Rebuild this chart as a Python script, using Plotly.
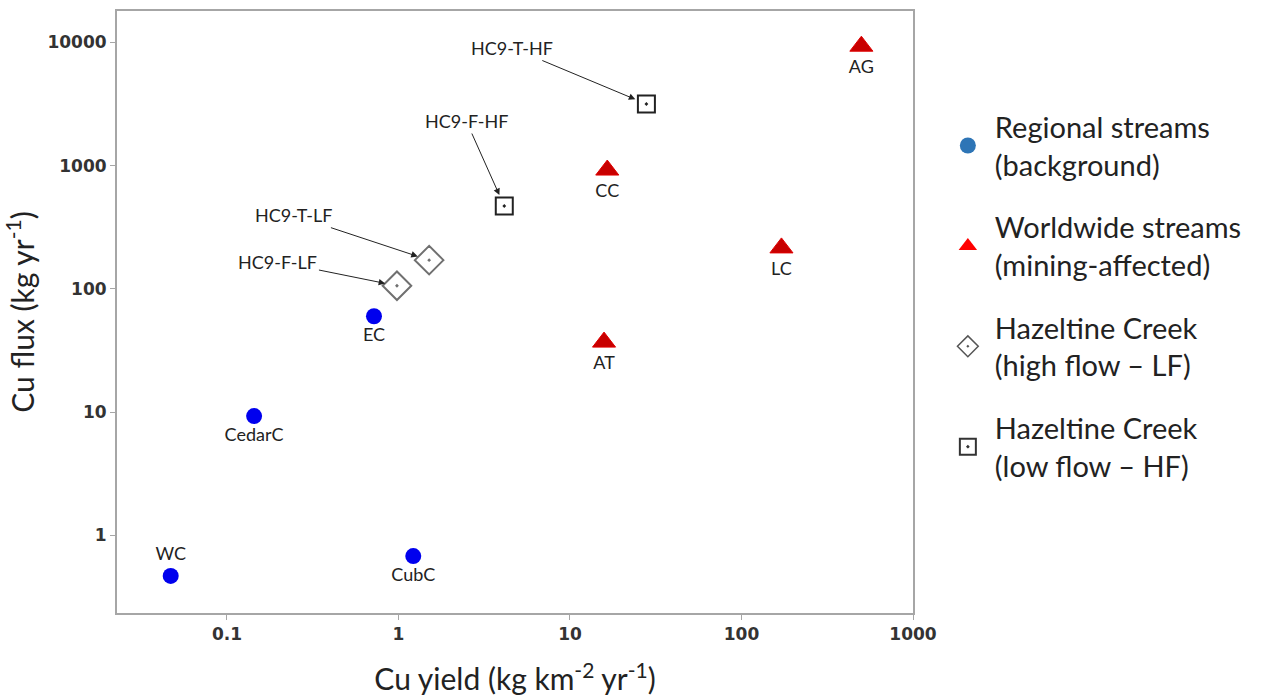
import plotly.graph_objects as go
import math

# Regional streams (background)
reg_names = ["WC", "CubC", "CedarC", "EC"]
reg_x = [0.047, 1.22, 0.144, 0.72]
reg_y = [0.47, 0.68, 9.3, 60]
reg_pos = ["top center", "bottom center", "bottom center", "bottom center"]

# Worldwide streams (mining-affected)
ww_names = ["AG", "CC", "LC", "AT"]
ww_x = [500, 16.5, 171, 15.8]
ww_y = [9300, 920, 215, 37]

# Hazeltine Creek (high flow - LF)
lf_names = ["HC9-F-LF", "HC9-T-LF"]
lf_x = [0.98, 1.51]
lf_y = [106, 171]

# Hazeltine Creek (low flow - HF)
hf_names = ["HC9-F-HF", "HC9-T-HF"]
hf_x = [4.14, 27.9]
hf_y = [470, 3160]

x_ticks = [0.1, 1, 10, 100, 1000]
x_ticktext = ["0.1", "1", "10", "100", "1000"]
y_ticks = [1, 10, 100, 1000, 10000]
y_ticktext = ["1", "10", "100", "1000", "10000"]

FONT = "Lato, 'Open Sans', sans-serif"
LBL = dict(family=FONT, size=18, color="#222")

fig = go.Figure()

fig.add_trace(go.Scatter(
    x=reg_x, y=reg_y, mode="markers+text", text=reg_names, textposition=reg_pos,
    marker=dict(symbol="circle", size=16, color="#0000ee", line=dict(width=0)),
    textfont=LBL, showlegend=False, cliponaxis=False))
fig.add_trace(go.Scatter(
    x=ww_x, y=ww_y, mode="markers+text", text=ww_names, textposition="bottom center",
    marker=dict(symbol="triangle-up", size=20, color="#c80000", line=dict(width=1, color="#e00000")),
    textfont=LBL, showlegend=False, cliponaxis=False))
fig.add_trace(go.Scatter(
    x=lf_x, y=lf_y, mode="markers",
    marker=dict(symbol="diamond-open-dot", size=22, color="#707070", line=dict(width=2, color="#707070")),
    showlegend=False))
fig.add_trace(go.Scatter(
    x=hf_x, y=hf_y, mode="markers",
    marker=dict(symbol="square-open-dot", size=17, color="#222", line=dict(width=2, color="#222")),
    showlegend=False))

# legend-only entries
legend_entries = [
    ("Regional streams<br>(background)", "circle", "#2e75b6", None),
    ("Worldwide streams<br>(mining-affected)", "triangle-up", "#ff0000", None),
    ("Hazeltine Creek<br>(high flow – LF)", "diamond-open-dot", "#555555", 1.5),
    ("Hazeltine Creek<br>(low flow – HF)", "square-open-dot", "#333333", 2),
]
for i, (name, sym, col, lw) in enumerate(legend_entries):
    m = dict(symbol=sym, size=22, color=col)
    if lw:
        m["line"] = dict(width=lw, color=col)
    fig.add_trace(go.Scatter(x=[None], y=[None], mode="markers", name=name,
                             marker=m, legendgroup=str(i), showlegend=True))

# arrow annotations for Hazeltine Creek points
arrow_specs = [
    (lf_names[0], lf_x[0], lf_y[0], -119, -24),
    (lf_names[1], lf_x[1], lf_y[1], -136, -45),
    (hf_names[0], hf_x[0], hf_y[0], -38, -85),
    (hf_names[1], hf_x[1], hf_y[1], -134, -56),
]
for name, x, y, ax, ay in arrow_specs:
    fig.add_annotation(x=math.log10(x), y=math.log10(y), text=name, showarrow=True,
                       ax=ax, ay=ay, arrowhead=2, arrowsize=1.3, arrowwidth=1,
                       arrowcolor="#222", standoff=12, font=LBL)

axis_common = dict(type="log", showgrid=False, zeroline=False, showline=True,
                   linecolor="#a6a6a6", linewidth=2, mirror=True,
                   ticks="outside", ticklen=5, tickcolor="#a6a6a6", tickwidth=1)
TICKF = dict(family="DejaVu Sans", size=17, color="#333")

fig.update_xaxes(**axis_common, range=[-1.641, 3.0], tickvals=x_ticks,
                 ticktext=["<b>%s</b>" % t for t in x_ticktext], tickfont=TICKF,
                 automargin=False,
                 title=dict(text="Cu yield (kg km<sup>-2</sup> yr<sup>-1</sup>)",
                            font=dict(family=FONT, size=30, color="#222"), standoff=26))
fig.update_yaxes(**axis_common, range=[-0.629, 4.254], tickvals=y_ticks,
                 ticktext=["<b>%s</b>" % t for t in y_ticktext], tickfont=TICKF,
                 automargin=False,
                 title=dict(text="Cu flux (kg yr<sup>-1</sup>)",
                            font=dict(family=FONT, size=30, color="#222"), standoff=10))

fig.update_layout(
    width=1268, height=698,
    margin=dict(l=117, r=355, t=11, b=85),
    plot_bgcolor="white", paper_bgcolor="white",
    legend=dict(x=1.035, y=0.85, xanchor="left", yanchor="top",
                font=dict(family=FONT, size=29, color="#222"),
                tracegroupgap=22, itemsizing="trace", itemwidth=44,
                bgcolor="rgba(0,0,0,0)"),
)

fig.write_html("out.html")
